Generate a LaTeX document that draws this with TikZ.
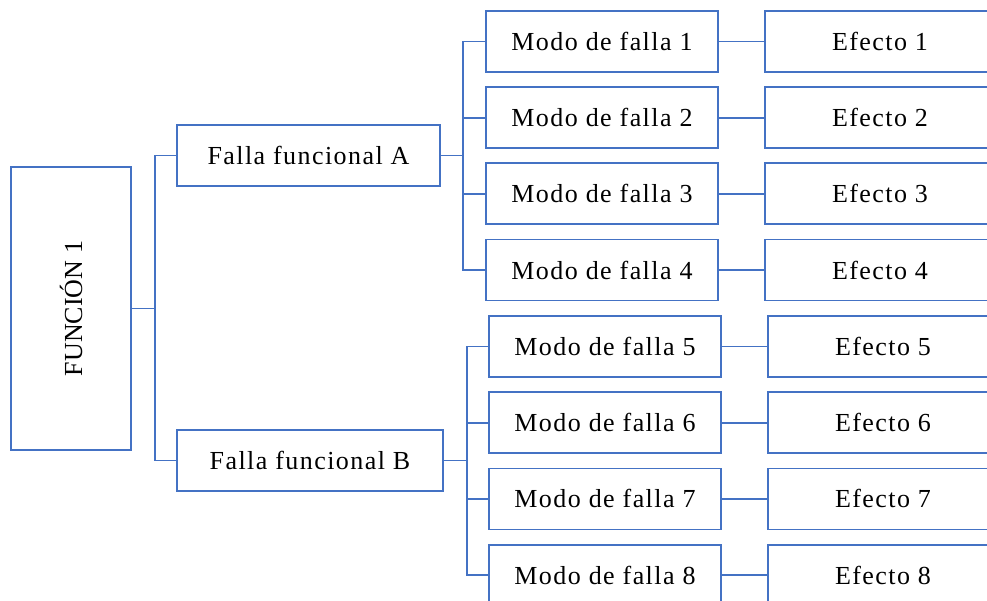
\documentclass[tikz,border=0pt]{standalone}
\usepackage{fontspec}
\setmainfont{Liberation Serif}
\newfontfamily\widefont[LetterSpace=5.5]{Liberation Serif}
\definecolor{lineblue}{HTML}{4472C4}
\tikzset{
  box/.style={draw=lineblue, line width=1.8pt, fill=white, minimum height=61pt,
    inner sep=0pt, font=\widefont\fontsize{26}{30}\selectfont},
  link/.style={draw=lineblue, line width=1.8pt},
}
\begin{document}
\begin{tikzpicture}[x=1pt, y=-1pt]

  \newcommand\Dy{76.2}
  \useasboundingbox (0,0) rectangle (987,601);
  \clip (0,0) rectangle (987,601);

  % funcion
  \node[box, rotate=90, minimum width=283pt, minimum height=120pt,
    font=\rmfamily\fontsize{26}{30}\selectfont] (fun) at (71,308.5) {FUNCIÓN 1};

  % fallas funcionales
  \node[box, minimum width=263pt] (fa) at (308.5,155.5) {Falla funcional A};
  \node[box, minimum width=266pt] (fb) at (310,460.5) {Falla funcional B};

  \draw[link] (fun.south) -- ++(23,0) coordinate (fj);
  \draw[link] (fj) |- (fa.west);
  \draw[link] (fj) |- (fb.west);

  % modos y efectos de A
  \foreach \i in {1,...,4}{
    \node[box, minimum width=232pt] (m\i) at (602, 41.5+\i*\Dy-\Dy) {Modo de falla \i};
    \node[box, minimum width=230pt] (e\i) at (880, 41.5+\i*\Dy-\Dy) {Efecto \i};
    \draw[link] (m\i) -- (e\i);
  }
  \draw[link] (fa.east) -- ++(22,0) coordinate (ja);
  \foreach \i in {1,...,4} \draw[link] (ja) |- (m\i.west);

  % modos y efectos de B
  \foreach \i in {5,...,8}{
    \node[box, minimum width=232pt] (m\i) at (605, 346.5+\i*\Dy-5*\Dy) {Modo de falla \i};
    \node[box, minimum width=230pt] (e\i) at (883, 346.5+\i*\Dy-5*\Dy) {Efecto \i};
    \draw[link] (m\i) -- (e\i);
  }
  \draw[link] (fb.east) -- ++(23,0) coordinate (jb);
  \foreach \i in {5,...,8} \draw[link] (jb) |- (m\i.west);

\end{tikzpicture}
\end{document}
